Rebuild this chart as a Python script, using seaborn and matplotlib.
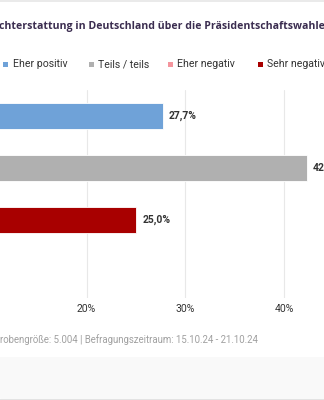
import matplotlib
matplotlib.use("Agg")
import matplotlib.pyplot as plt
import seaborn as sns
import pandas as pd
from matplotlib.patches import Rectangle
from matplotlib.lines import Line2D

# ---- data ----
categories = ["Eher positiv", "Teils / teils", "Sehr negativ"]
values = [27.7, 42.3, 25.0]
value_labels = ["27,7%", "42,3%", "25,0%"]
bar_colors = ["#6fa2d8", "#b0b0b0", "#a80000"]
legend_labels = ["Eher positiv", "Teils / teils", "Eher negativ", "Sehr negativ"]
legend_colors = ["#6fa2d8", "#b0b0b0", "#f4959d", "#a80000"]
x_ticks = [0, 10, 20, 30, 40, 50]
x_tick_labels = ["0%", "10%", "20%", "30%", "40%", "50%"]
title_text = "chterstattung in Deutschland über die Präsidentschaftswahlen"
footer_text = "robengröße: 5.004 | Befragungszeitraum: 15.10.24 - 21.10.24"

sns.set_theme(style="white")
plt.rcParams['font.family'] = ['Roboto', 'DejaVu Sans']

W, H = 324, 400
fig = plt.figure(figsize=(W / 100, H / 100), dpi=100)
fig.patch.set_facecolor("white")

def fx(px):
    return px / W

def fy(py):
    return 1 - py / H

# background bits (top border, bottom band)
fig.add_artist(Line2D([0, 1], [fy(0.5), fy(0.5)], transform=fig.transFigure,
                      color="#e6e6e6", linewidth=1.2))
fig.add_artist(Rectangle((0, fy(398)), 1, (398 - 357) / H, transform=fig.transFigure,
                         facecolor="#f9f9f9", edgecolor="none", zorder=0))
fig.add_artist(Line2D([0, 1], [fy(398.5), fy(398.5)], transform=fig.transFigure,
                      color="#e3e3e3", linewidth=1.0))

# plot area: 0% lies off-canvas to the left (cropped view)
ax = fig.add_axes([fx(-111), fy(298), 494 / W, 208 / H])
df = pd.DataFrame({"cat": categories, "val": values})
sns.barplot(data=df, y="cat", x="val", hue="cat", palette=bar_colors,
            orient="h", width=0.5, ax=ax, legend=False,
            edgecolor="white", linewidth=0.6, saturation=1)
ax.set_xlim(0, 50)
ax.set_ylim(3.5, -0.5)
ax.set_facecolor("none")
ax.grid(axis="x", color="#e8e8e8", linewidth=0.8)
ax.grid(axis="y", visible=False)
ax.set_axisbelow(True)
for s in ax.spines.values():
    s.set_visible(False)
ax.set_yticks([])
ax.set_xticks(x_ticks)
ax.set_xticklabels(x_tick_labels, fontsize=7.5, color="#333333")
ax.tick_params(axis="x", length=0, pad=4)
ax.set_xlabel("")
ax.set_ylabel("")

for i, (v, lab) in enumerate(zip(values, value_labels)):
    ax.text(v + 0.62, i, lab, va="center", ha="left", fontsize=7.5,
            fontweight="bold", color="#333333")

# title
fig.text(fx(-1), fy(29), title_text, ha="left", va="baseline",
         fontsize=7.6, fontweight="bold", color="#3b2d50",
         family=["Open Sans", "DejaVu Sans"])

# legend
sq_x = [3.3, 89, 168, 258]
for x0, lab, col in zip(sq_x, legend_labels, legend_colors):
    fig.add_artist(Rectangle((fx(x0), fy(67)), 5 / W, 5 / H,
                             transform=fig.transFigure, facecolor=col,
                             edgecolor="none"))
    fig.text(fx(x0 + 9.3), fy(64), lab, ha="left", va="center",
             fontsize=7.6, color="#333333")

# footer
fig.text(fx(-0.5), fy(340), footer_text, ha="left", va="center",
         fontsize=6.9, color="#a0a0a0")

fig.savefig("out.png", dpi=100)
